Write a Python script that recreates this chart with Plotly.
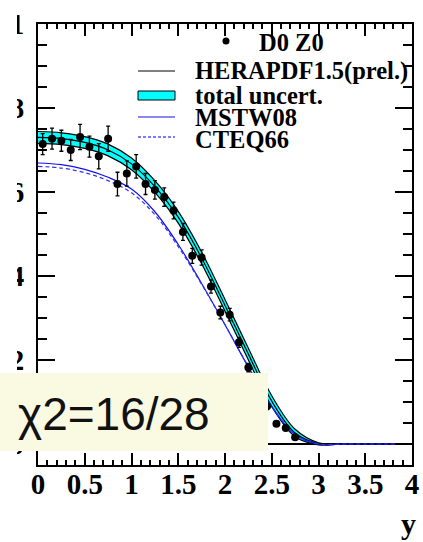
import plotly.graph_objects as go

# ---- data ----
data_x = [0.05, 0.15, 0.25, 0.35, 0.45, 0.55, 0.65, 0.75, 0.85, 0.95,
          1.05, 1.15, 1.25, 1.35, 1.45, 1.55, 1.65, 1.75, 1.85, 1.95,
          2.05, 2.15, 2.25, 2.35, 2.45, 2.55, 2.65, 2.75]
data_y = [0.714, 0.727, 0.722, 0.700, 0.731, 0.708, 0.685, 0.727, 0.619, 0.644,
          0.661, 0.619, 0.605, 0.588, 0.556, 0.505, 0.448, 0.444, 0.375, 0.313,
          0.308, 0.242, 0.182, 0.135, 0.090, 0.048, 0.038, 0.016]
data_err = [0.025, 0.025, 0.025, 0.025, 0.030, 0.025, 0.030, 0.030, 0.028, 0.030,
            0.028, 0.025, 0.022, 0.022, 0.020, 0.020, 0.018, 0.018, 0.016, 0.015,
            0.015, 0.012, 0.010, 0.010, 0.008, 0.006, 0.005, 0.004]

curve_x = [0.0, 0.25, 0.5, 0.75, 1.0, 1.25, 1.5, 1.75, 2.0, 2.25, 2.5, 2.75, 3.0, 3.25, 3.5, 4.0]
hera_c = [0.730, 0.727, 0.718, 0.700, 0.667, 0.613, 0.540, 0.443, 0.330, 0.214, 0.102, 0.026, 0.001, 0.0, 0.0, 0.0]
hera_hi = [0.744, 0.741, 0.732, 0.714, 0.681, 0.627, 0.554, 0.457, 0.344, 0.228, 0.115, 0.035, 0.003, 0.0, 0.0, 0.0]
hera_lo = [0.716, 0.713, 0.704, 0.686, 0.653, 0.599, 0.526, 0.429, 0.316, 0.200, 0.089, 0.017, -0.002, 0.0, 0.0, 0.0]
mstw = [0.669, 0.665, 0.654, 0.635, 0.607, 0.553, 0.475, 0.382, 0.284, 0.183, 0.089, 0.022, 0.0, 0.0, 0.0, 0.0]
cteq = [0.661, 0.657, 0.646, 0.627, 0.598, 0.546, 0.470, 0.380, 0.284, 0.184, 0.090, 0.023, 0.0, 0.0, 0.0, 0.0]

x_ticks = [0, 0.5, 1, 1.5, 2, 2.5, 3, 3.5, 4]
y_ticks = [0, 0.2, 0.4, 0.6, 0.8, 1]

W, H = 423, 542
L, R, T, B = 38, 11, 24, 77
PW, PH = W - L - R, H - T - B


def px(xp):
    return (xp - L) / PW


def py(yp):
    return (H - B - yp) / PH


fig = go.Figure()
fig.add_trace(go.Scatter(x=curve_x, y=hera_lo, mode="lines",
                         line=dict(color="black", width=1.2, shape="spline"), hoverinfo="skip"))
fig.add_trace(go.Scatter(x=curve_x, y=hera_hi, mode="lines", fill="tonexty", fillcolor="#00FFFF",
                         line=dict(color="black", width=1.2, shape="spline"), hoverinfo="skip"))
fig.add_trace(go.Scatter(x=curve_x, y=hera_c, mode="lines",
                         line=dict(color="black", width=1.2, shape="spline")))
fig.add_trace(go.Scatter(x=curve_x, y=mstw, mode="lines",
                         line=dict(color="#1010ee", width=1.2, shape="spline")))
fig.add_trace(go.Scatter(x=curve_x, y=cteq, mode="lines",
                         line=dict(color="#3030ff", width=1.2, dash="4px,3px", shape="spline")))
fig.add_trace(go.Scatter(x=data_x, y=data_y, mode="markers",
                         marker=dict(color="black", size=8),
                         error_y=dict(type="data", array=data_err, color="black", thickness=1.3, width=2)))

tickfont = dict(family="Liberation Serif", size=29, color="black", weight="bold")
fig.update_xaxes(range=[0, 4], tickvals=x_ticks, ticktext=[f"{v:g}" for v in x_ticks],
                 ticks="inside", ticklen=12, tickwidth=2, tickcolor="black",
                 showline=True, linewidth=2, linecolor="black", mirror="allticks",
                 minor=dict(dtick=0.1, tick0=0, ticks="inside", ticklen=5, tickwidth=1.5, tickcolor="black"),
                 tickfont=tickfont, ticklabelstandoff=-8, showgrid=False, zeroline=False, automargin=False)
fig.update_yaxes(range=[-0.05, 1.0], tickvals=y_ticks, ticktext=[f"{v:g}" for v in y_ticks],
                 ticks="inside", ticklen=17, tickwidth=2, tickcolor="black",
                 showline=True, linewidth=2, linecolor="black", mirror="allticks",
                 minor=dict(dtick=0.05, tick0=0, ticks="inside", ticklen=9, tickwidth=1.5, tickcolor="black"),
                 tickfont=tickfont, ticklabelstandoff=6, showgrid=False, automargin=False,
                 zeroline=True, zerolinecolor="black", zerolinewidth=1.5)

shapes = []
# white cover: left part of y tick labels is cut off in the reference
shapes.append(dict(type="rect", xref="paper", yref="paper", x0=px(-20), x1=px(17), y0=py(560), y1=py(-20),
                   fillcolor="white", line=dict(width=0), layer="above"))
# chi2 box
shapes.append(dict(type="rect", xref="paper", yref="paper", x0=px(0), x1=px(268), y0=py(451), y1=py(373),
                   fillcolor="#FAFAE2", line=dict(width=0), layer="above"))
# legend symbols
shapes.append(dict(type="circle", xref="paper", yref="paper", x0=px(222.5), x1=px(229.5), y0=py(44.5), y1=py(37.5),
                   fillcolor="black", line=dict(width=0), layer="above"))
shapes.append(dict(type="line", xref="paper", yref="paper", x0=px(138), x1=px(175), y0=py(71), y1=py(71),
                   line=dict(color="black", width=1), layer="above"))
shapes.append(dict(type="rect", xref="paper", yref="paper", x0=px(138), x1=px(175), y0=py(100), y1=py(91),
                   fillcolor="#00FFFF", line=dict(color="black", width=1), layer="above"))
shapes.append(dict(type="line", xref="paper", yref="paper", x0=px(138), x1=px(175), y0=py(117), y1=py(117),
                   line=dict(color="#1010ee", width=1.2), layer="above"))
shapes.append(dict(type="line", xref="paper", yref="paper", x0=px(138), x1=px(175), y0=py(137), y1=py(137),
                   line=dict(color="#5050ff", width=1.5, dash="3px,2px"), layer="above"))

legfont = dict(family="Liberation Serif", size=24.5, color="black", weight="bold")
annotations = [
    dict(text="D0 Z0", x=px(257), y=py(42.5)),
    dict(text="HERAPDF1.5(prel.)", x=px(193), y=py(71)),
    dict(text="total uncert.", x=px(193), y=py(95)),
    dict(text="MSTW08", x=px(193), y=py(117.5)),
    dict(text="CTEQ66", x=px(193), y=py(139)),
]
for a in annotations:
    a.update(xref="paper", yref="paper", xanchor="left", yanchor="middle", showarrow=False, font=legfont)
annotations.append(dict(text="χ2=16/28", x=px(16), y=py(414), xref="paper", yref="paper",
                        xanchor="left", yanchor="middle", showarrow=False,
                        font=dict(family="Liberation Sans", size=46, color="#111111")))
annotations.append(dict(text="y", x=px(418), y=py(523), xref="paper", yref="paper",
                        xanchor="right", yanchor="middle", showarrow=False,
                        font=dict(family="Liberation Serif", size=30, color="black", weight="bold")))

fig.update_layout(width=W, height=H, margin=dict(l=L, r=R, t=T, b=B, autoexpand=False),
                  paper_bgcolor="white", plot_bgcolor="white", showlegend=False,
                  shapes=shapes, annotations=annotations)
fig.write_html("out.html")
